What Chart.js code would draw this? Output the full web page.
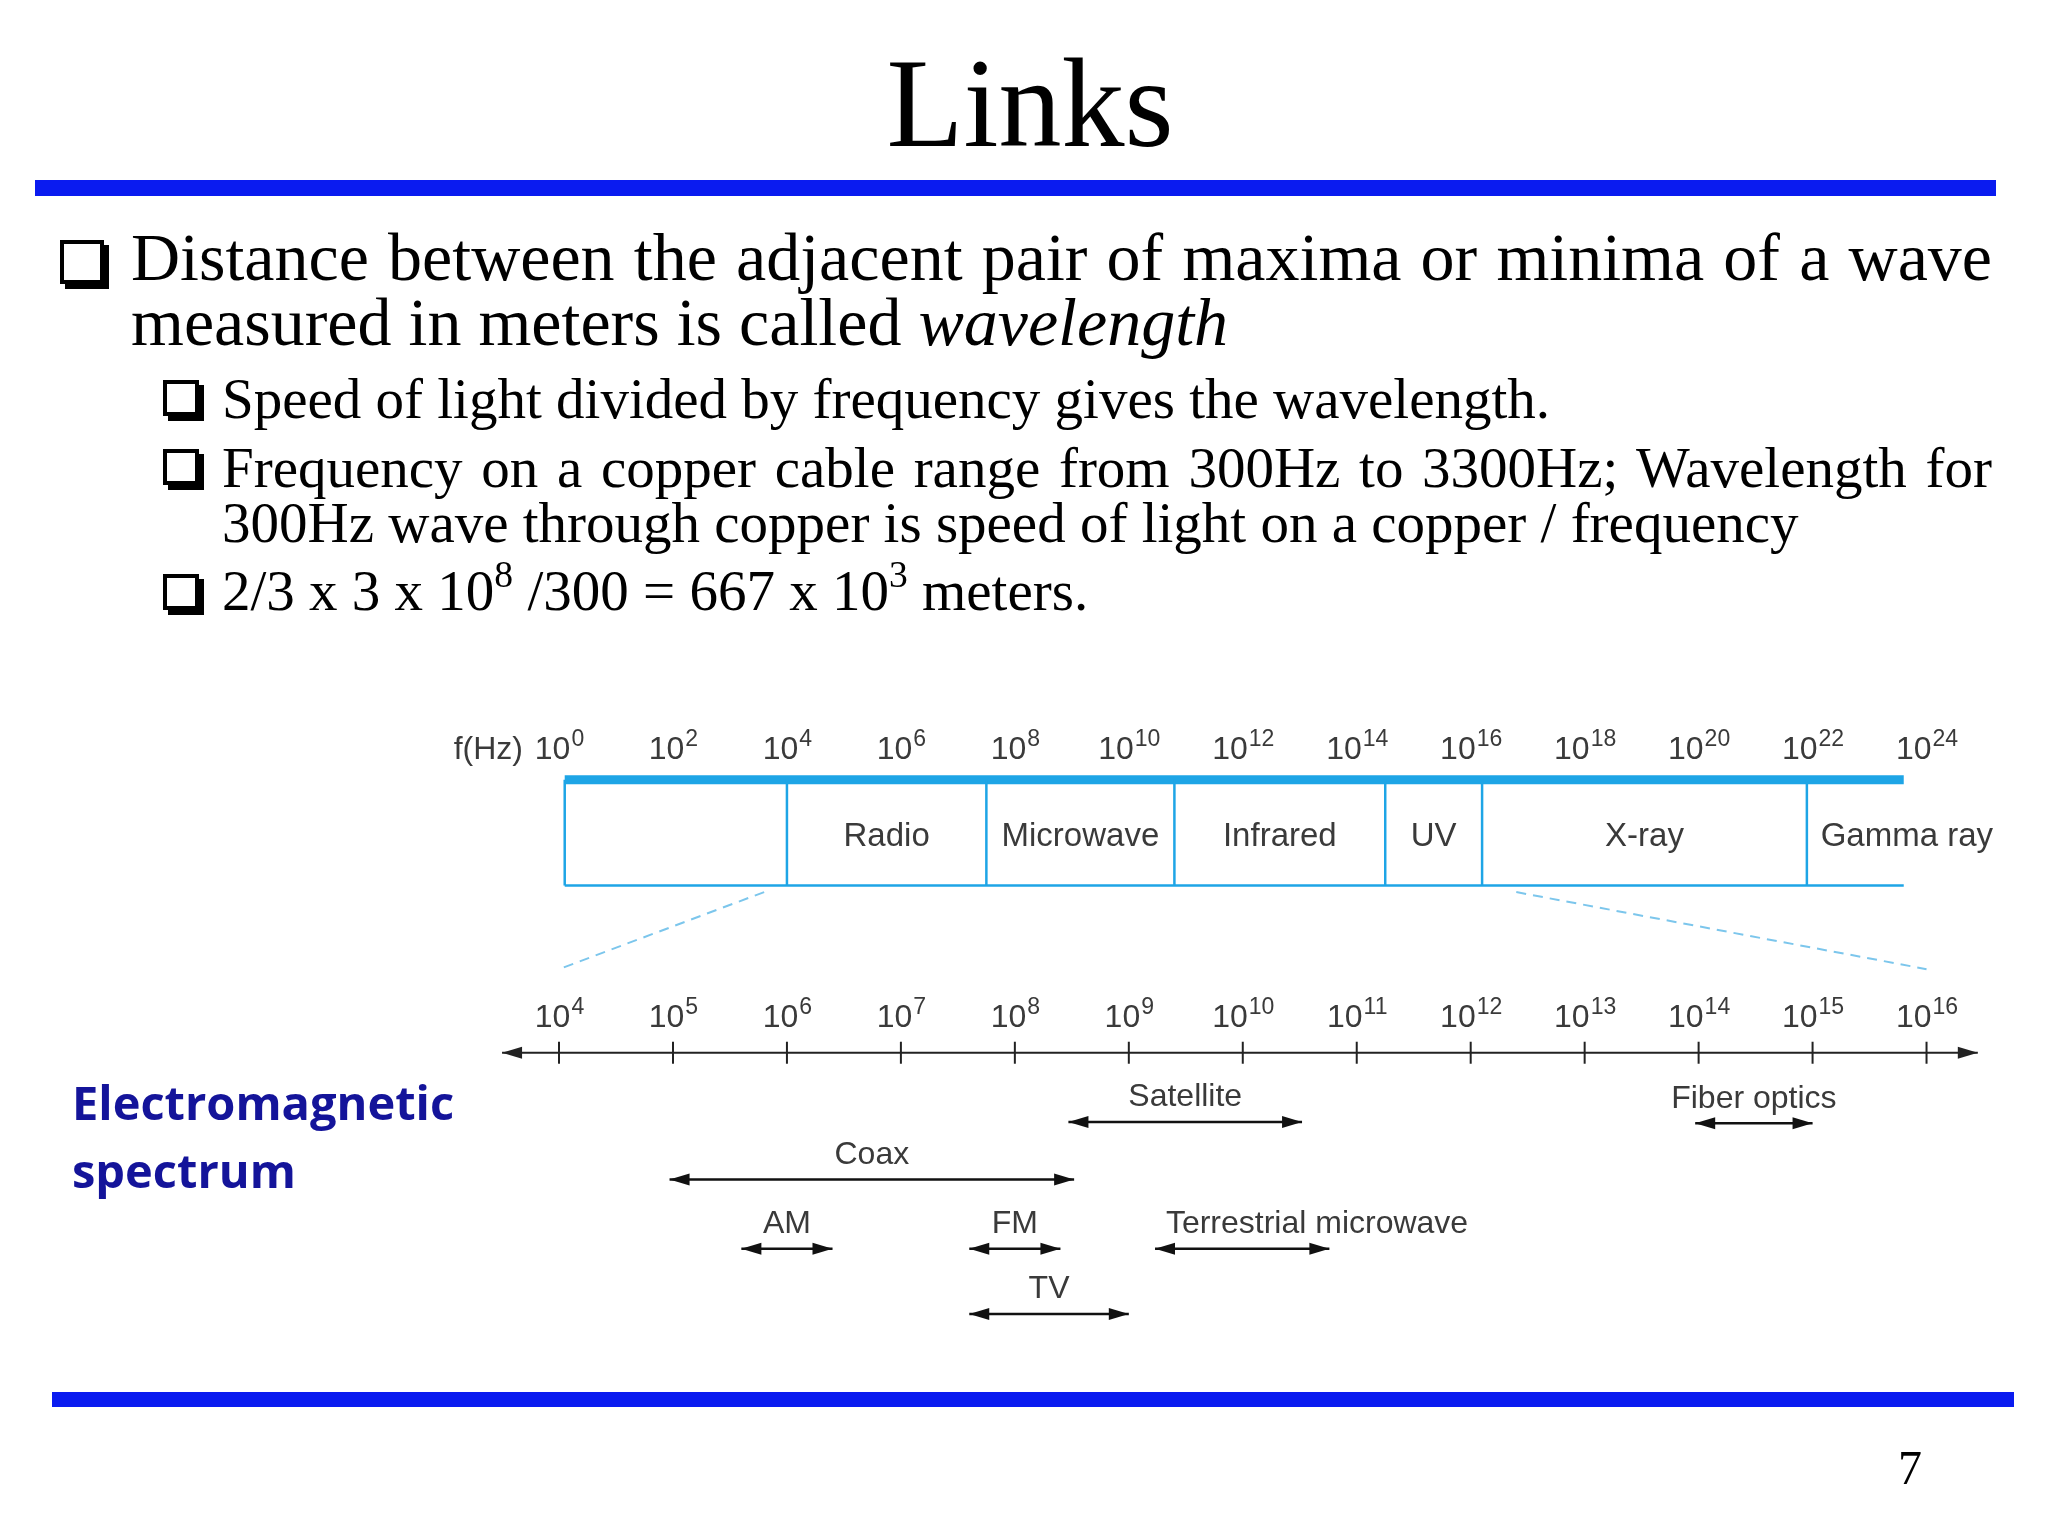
<!DOCTYPE html>
<html>
<head>
<meta charset="utf-8">
<script src="https://cdn.jsdelivr.net/npm/chart.js@4.4.0/dist/chart.umd.min.js"></script>
<style>
  body { margin: 0; background: #fff; width: 2048px; height: 1536px; overflow: hidden; position: relative; }
  .t { position: absolute; font-family: "Liberation Serif", "Times New Roman", serif; color: #000; white-space: nowrap; }
  .j { text-align: justify; text-align-last: justify; }
  .bar { position: absolute; background: #0a1bf0; }
  .box { position: absolute; border: 4px solid #000; box-shadow: 5px 5px 0 #000; box-sizing: border-box; }
  sup { font-size: 0.66em; vertical-align: 0.6em; line-height: 0; }
  #wrap { position: absolute; left: 0; top: 0; width: 2048px; height: 1536px; }
  .em { position: absolute; left: 72px; font-family: "Open Sans", "Noto Sans", sans-serif; font-weight: bold; color: #14149a; font-size: 47px; }
</style>
</head>
<body>
<div id="wrap"><canvas id="spectrum"></canvas></div>

<div class="t" style="left:0;width:2060px;text-align:center;top:32px;font-size:126px;">Links</div>
<div class="bar" style="left:35px;width:1961px;top:180px;height:16px;"></div>

<div class="box" style="left:60px;top:240px;width:44px;height:44px;"></div>
<div class="t j" style="left:131px;top:218px;font-size:68px;width:1861px;">Distance between the adjacent pair of maxima or minima of a wave</div>
<div class="t" style="left:131px;top:283px;font-size:68px;">measured in meters is called <i>wavelength</i></div>

<div class="box" style="left:163px;top:380px;width:36px;height:36px;"></div>
<div class="t" style="left:222px;top:366px;font-size:57px;">Speed of light divided by frequency gives the wavelength.</div>
<div class="box" style="left:163px;top:449px;width:36px;height:36px;"></div>
<div class="t j" style="left:222px;top:435px;font-size:57px;width:1770px;">Frequency on a copper cable range from 300Hz to 3300Hz; Wavelength for</div>
<div class="t" style="left:222px;top:490px;font-size:57px;">300Hz wave through copper is speed of light on a copper / frequency</div>
<div class="box" style="left:163px;top:574px;width:36px;height:36px;"></div>
<div class="t" style="left:222px;top:558px;font-size:57px;">2/3 x 3 x 10<sup>8</sup> /300 = 667 x 10<sup>3</sup> meters.</div>

<div class="em" style="top:1070px;">Electromagnetic</div>
<div class="em" style="top:1138px;">spectrum</div>

<div class="bar" style="left:52px;width:1962px;top:1392px;height:15px;"></div>
<div class="t" style="left:1898px;top:1440px;font-size:48px;">7</div>

<script>
// exponents of 10 (Hz)
const topTicks = [0, 2, 4, 6, 8, 10, 12, 14, 16, 18, 20, 22, 24];
const bandEdges = [0.1, 4, 7.5, 10.8, 14.5, 16.2, 21.9, 23.6];
const bandNames = ['', 'Radio', 'Microwave', 'Infrared', 'UV', 'X-ray', 'Gamma ray'];
const bottomTicks = [4, 5, 6, 7, 8, 9, 10, 11, 12, 13, 14, 15, 16];
const mediaNames = ['Satellite', 'Fiber optics', 'Coax', 'AM', 'FM', 'Terrestrial microwave', 'TV'];
const mediaFrom  = [8.47, 13.97, 4.97, 5.6, 7.6, 9.23, 7.6];
const mediaTo    = [10.52, 15.0, 8.52, 6.4, 8.4, 10.76, 9.0];
const mediaRow   = [859, 860, 903, 956, 956, 956, 1006];
const zoomFrom = [3.6, 16.8];   // top-scale points where the dashed zoom lines start
const zoomTo = [4, 16];

const S = 2048 / 1568;
const ink = '#3a3a3a';
const cyan = '#1ea5e6';

const datasets = mediaNames.map((n, i) => ({
  label: n,
  xAxisID: 'x2',
  data: [{x: mediaFrom[i], y: mediaRow[i]}, {x: mediaTo[i], y: mediaRow[i]}],
  borderColor: '#111', borderWidth: 2.5, pointRadius: 0, showLine: true
}));

function pow10(ctx, x, y, e, size, align) {
  ctx.font = size + 'px "Liberation Sans", Arial, sans-serif';
  const b = '10', w1 = ctx.measureText(b).width;
  ctx.font = (size * 0.72) + 'px "Liberation Sans", Arial, sans-serif';
  const w2 = ctx.measureText(String(e)).width;
  let left = align === 'center' ? x - (w1 + w2) / 2 : x;
  ctx.textAlign = 'left'; ctx.textBaseline = 'alphabetic';
  ctx.font = size + 'px "Liberation Sans", Arial, sans-serif';
  ctx.fillText(b, left, y);
  ctx.font = (size * 0.72) + 'px "Liberation Sans", Arial, sans-serif';
  ctx.fillText(String(e), left + w1 + 1, y - size * 0.4);
}

function arrowHead(ctx, x, y, dir) {
  ctx.beginPath();
  ctx.moveTo(x, y);
  ctx.lineTo(x - dir * 20, y - 6);
  ctx.lineTo(x - dir * 20, y + 6);
  ctx.closePath(); ctx.fill();
}

const drawSpectrum = {
  id: 'drawSpectrum',
  afterDatasetsDraw(chart) {
    const {ctx, scales: {x, x2, y}} = chart;
    ctx.save();
    ctx.fillStyle = ink;
    topTicks.forEach(e => {
      pow10(ctx, x.getPixelForValue(e), y.getPixelForValue(581), e, 32, 'center');
    });
    ctx.font = '32px "Liberation Sans", Arial, sans-serif';
    ctx.textAlign = 'right';
    ctx.fillText('f(Hz)', x.getPixelForValue(0) - 36, y.getPixelForValue(581));
    // band box
    const yt = y.getPixelForValue(597), yb = y.getPixelForValue(678);
    const x0 = x.getPixelForValue(bandEdges[0]), x1 = x.getPixelForValue(bandEdges[bandEdges.length - 1]);
    ctx.strokeStyle = cyan;
    ctx.lineWidth = 9;
    ctx.beginPath(); ctx.moveTo(x0, yt); ctx.lineTo(x1, yt); ctx.stroke();
    ctx.lineWidth = 2.5;
    ctx.beginPath(); ctx.moveTo(x0, yb); ctx.lineTo(x1, yb); ctx.stroke();
    bandEdges.slice(0, -1).forEach(e => {
      const px = x.getPixelForValue(e);
      ctx.beginPath(); ctx.moveTo(px, yt); ctx.lineTo(px, yb); ctx.stroke();
    });
    ctx.textAlign = 'center';
    ctx.fillStyle = ink;
    ctx.font = '33px "Liberation Sans", Arial, sans-serif';
    bandNames.forEach((n, i) => {
      if (!n) return;
      let cx = (x.getPixelForValue(bandEdges[i]) + x.getPixelForValue(bandEdges[i + 1])) / 2;
      if (i === bandNames.length - 1) cx = x.getPixelForValue(bandEdges[i]) + 100;
      ctx.fillText(n, cx, y.getPixelForValue(648));
    });
    // dashed zoom lines
    ctx.setLineDash([10, 7]);
    ctx.strokeStyle = '#7cc6ec';
    ctx.lineWidth = 2;
    zoomFrom.forEach((e, i) => {
      ctx.beginPath();
      ctx.moveTo(x.getPixelForValue(e), y.getPixelForValue(683));
      ctx.lineTo(x2.getPixelForValue(zoomTo[i]), y.getPixelForValue(742));
      ctx.stroke();
    });
    ctx.setLineDash([]);
    // bottom axis
    const ya = y.getPixelForValue(806);
    ctx.strokeStyle = '#222'; ctx.fillStyle = '#222'; ctx.lineWidth = 2;
    const ax0 = x2.getPixelForValue(3.5), ax1 = x2.getPixelForValue(16.45);
    ctx.beginPath(); ctx.moveTo(ax0, ya); ctx.lineTo(ax1, ya); ctx.stroke();
    arrowHead(ctx, ax0, ya, -1); arrowHead(ctx, ax1, ya, 1);
    bottomTicks.forEach(e => {
      const px = x2.getPixelForValue(e);
      ctx.beginPath(); ctx.moveTo(px, ya - 11); ctx.lineTo(px, ya + 11); ctx.stroke();
      ctx.fillStyle = ink;
      pow10(ctx, px, y.getPixelForValue(786), e, 32, 'center');
      ctx.fillStyle = '#222';
    });
    // media arrows & labels
    ctx.font = '32px "Liberation Sans", Arial, sans-serif';
    ctx.textAlign = 'center';
    mediaNames.forEach((n, i) => {
      const a = x2.getPixelForValue(mediaFrom[i]), b = x2.getPixelForValue(mediaTo[i]);
      const py = y.getPixelForValue(mediaRow[i]);
      ctx.fillStyle = '#111';
      arrowHead(ctx, a, py, -1); arrowHead(ctx, b, py, 1);
      ctx.fillStyle = ink;
      let cx = (a + b) / 2;
      if (n === 'Terrestrial microwave') cx = a + 162;
      ctx.fillText(n, cx, py - 12 * S);
    });
    ctx.restore();
  }
};

new Chart(document.getElementById('spectrum'), {
  type: 'scatter',
  data: { datasets },
  options: {
    responsive: true,
    maintainAspectRatio: false,
    animation: false,
    events: [],
    layout: { padding: { left: 428 * S, right: 2048 - 1475 * S, top: 0, bottom: 0 } },
    scales: {
      x: { type: 'linear', min: 0, max: 24, display: false },
      x2: { type: 'linear', min: 4, max: 16, display: false },
      y: { type: 'linear', min: 0, max: 1176, reverse: true, display: false }
    },
    plugins: { legend: { display: false }, tooltip: { enabled: false } }
  },
  plugins: [drawSpectrum]
});
</script>
</body>
</html>
